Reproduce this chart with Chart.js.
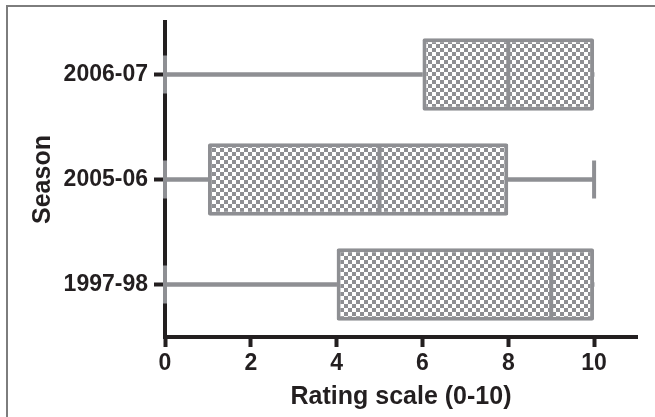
<!DOCTYPE html>
<html>
<head>
<meta charset="utf-8">
<script src="https://cdn.jsdelivr.net/npm/chart.js@4.4.0/dist/chart.umd.min.js"></script>
<style>
    body { margin: 0; background: #fff; }
    #wrap { position: relative; width: 655px; height: 417px; overflow: hidden; }
    #frame { position: absolute; left: 6px; top: 5px; width: 800px; height: 600px;
             border-left: 2px solid #7d7d7d; border-top: 2px solid #7d7d7d; }
    #boxChart { position: absolute; left: 0; top: 0; }
</style>
</head>
<body>
<div id="wrap">
    <div id="frame"></div>
    <canvas id="boxChart" width="655" height="417"></canvas>
</div>
<script>
const seasons = ['2006-07', '2005-06', '1997-98'];
const minVals = [0, 0, 0];
const q1Vals = [6, 1, 4];
const medianVals = [8, 5, 9];
const q3Vals = [10, 8, 10];
const maxVals = [10, 10, 10];
const xTicks = [0, 2, 4, 6, 8, 10];

const gray = '#8e8f93';
const ink = '#231f20';

// шахматная заливка для коробок
function checkerPattern() {
    const c = document.createElement('canvas');
    c.width = 8; c.height = 8;
    const g = c.getContext('2d');
    g.fillStyle = '#ffffff';
    g.fillRect(0, 0, 8, 8);
    g.fillStyle = gray;
    g.fillRect(0, 0, 4, 4);
    g.fillRect(4, 4, 4, 4);
    return g.createPattern(c, 'repeat');
}

// засечки: внизу всегда, вверху только если ус выходит за коробку
const capPoints = seasons.map((s, i) => ({ x: minVals[i], y: s }))
    .concat(seasons.filter((s, i) => maxVals[i] > q3Vals[i])
        .map(s => ({ x: maxVals[seasons.indexOf(s)], y: s })));

const ctx = document.getElementById('boxChart').getContext('2d');

new Chart(ctx, {
    type: 'bar',
    data: {
        labels: seasons,
        datasets: [
            {
                // медиана
                type: 'line',
                indexAxis: 'y',
                data: seasons.map((s, i) => ({ x: medianVals[i], y: s })),
                showLine: false,
                pointStyle: 'line',
                rotation: 90,
                radius: 34,
                borderColor: gray,
                borderWidth: 4,
                clip: false,
                order: 0
            },
            {
                // коробки Q1-Q3
                data: seasons.map((s, i) => [q1Vals[i], q3Vals[i]]),
                backgroundColor: checkerPattern(),
                borderColor: gray,
                borderWidth: 4,
                borderSkipped: false,
                borderRadius: 2,
                grouped: false,
                categoryPercentage: 1,
                barPercentage: 0.69,
                order: 1
            },
            {
                // нижний ус
                data: seasons.map((s, i) => [minVals[i], q1Vals[i]]),
                backgroundColor: gray,
                borderWidth: 0,
                grouped: false,
                barThickness: 4,
                order: 2
            },
            {
                // верхний ус
                data: seasons.map((s, i) => [q3Vals[i], maxVals[i]]),
                backgroundColor: gray,
                borderWidth: 0,
                grouped: false,
                barThickness: 4,
                order: 3
            },
            {
                type: 'line',
                indexAxis: 'y',
                data: capPoints,
                showLine: false,
                pointStyle: 'line',
                rotation: 90,
                radius: 19,
                borderColor: gray,
                borderWidth: 4,
                clip: false,
                order: 4
            }
        ]
    },
    options: {
        indexAxis: 'y',
        responsive: false,
        animation: false,
        layout: { autoPadding: false, padding: { top: 22, right: 18, left: 0, bottom: 0 } },
        plugins: {
            legend: { display: false },
            tooltip: { enabled: false }
        },
        scales: {
            x: {
                type: 'linear',
                min: 0,
                max: 11,
                afterFit: s => {
                    s.height = 80;
                    s.paddingLeft = 0; s.paddingRight = 0;
                },
                afterBuildTicks: s => { s.ticks = xTicks.map(v => ({ value: v })); },
                grid: {
                    drawOnChartArea: false,
                    drawTicks: true,
                    tickLength: 10,
                    tickWidth: 4,
                    tickColor: ink
                },
                border: { display: true, color: ink, width: 4 },
                ticks: {
                    color: ink,
                    padding: 3,
                    font: { family: 'Liberation Sans', size: 23, weight: 'bold' }
                },
                title: {
                    display: true,
                    text: 'Rating scale (0-10)',
                    color: ink,
                    padding: { top: 0, bottom: 5 },
                    font: { family: 'Liberation Sans', size: 25, weight: 'bold' }
                }
            },
            y: {
                type: 'category',
                offset: true,
                afterFit: s => {
                    s.width = 165;
                    s.paddingTop = 0; s.paddingBottom = 0;
                },
                grid: {
                    offset: false,
                    drawOnChartArea: false,
                    drawTicks: true,
                    tickLength: 11,
                    tickWidth: 4,
                    tickColor: ink
                },
                border: { display: true, color: ink, width: 4 },
                ticks: {
                    color: ink,
                    padding: 6,
                    font: { family: 'Liberation Sans', size: 23, weight: 'bold' }
                },
                title: {
                    display: true,
                    text: 'Season',
                    color: ink,
                    padding: { top: 28, bottom: 0 },
                    font: { family: 'Liberation Sans', size: 25, weight: 'bold' }
                }
            }
        }
    }
});
</script>
</body>
</html>
